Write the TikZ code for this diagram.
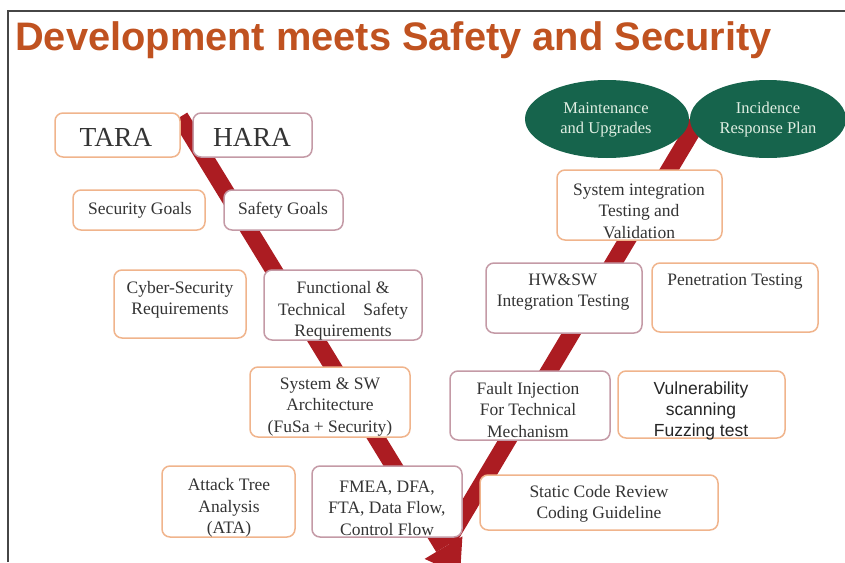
\documentclass[tikz,border=0pt]{standalone}
\usepackage{fontspec}
\usetikzlibrary{shapes.geometric}
\setmainfont{Liberation Serif}
\newfontfamily\titlefont{Liberation Sans}
\newfontfamily\armfont{Liberation Sans}
\begin{document}
\definecolor{bandred}{RGB}{172,28,34}
\definecolor{peach}{RGB}{240,180,140}
\definecolor{mauve}{RGB}{196,154,166}
\definecolor{ovalgreen}{RGB}{22,100,76}
\definecolor{ovaltext}{RGB}{224,238,226}
\definecolor{boxtext}{RGB}{52,52,52}
\definecolor{titlecol}{RGB}{192,82,32}
\definecolor{framecol}{RGB}{70,70,70}
\begin{tikzpicture}[x=1pt,y=-1pt,
  panel/.style={draw, line width=1.5pt, rounded corners=8pt, fill=white, inner sep=0pt},
  lbl/.style={text=boxtext, align=center, font=\fontsize{17.5}{21.5}\selectfont, inner sep=0pt},
  biglbl/.style={text=boxtext, font=\fontsize{27.5}{30}\selectfont, inner sep=0pt},
  sanslbl/.style={text=black!85, align=center, font=\armfont\fontsize{17.5}{21}\selectfont, inner sep=0pt},
  oval/.style={ellipse, fill=ovalgreen, inner sep=0pt},
  ovallbl/.style={text=ovaltext, align=center, font=\fontsize{16.5}{20}\selectfont, inner sep=0pt},
  band/.style={bandred}]
\useasboundingbox (0,0) rectangle (845,562);
\clip (0,0) rectangle (845,562);

% frame
\draw[line width=1.8pt, framecol] (8,562) -- (8,11) -- (845,11);

% title
\node[anchor=base west, text=titlecol, inner sep=0pt,
      font=\titlefont\bfseries\fontsize{39.8}{42}\selectfont] (title) at (15,50)
  {Development meets Safety and Security};

% the V-shaped flow band
\coordinate (vtop) at (180,117);
\coordinate (vbase) at (443.5,547.6);
\coordinate (vtip) at (460,575);
\coordinate (vb1) at (462.4,536.3);
\coordinate (vb2) at (424.6,558.9);
\coordinate (wlow) at (447,542);
\coordinate (wtop) at (700,118);
\draw[band, line width=17pt] (vtop) -- (vbase);
\fill[band] (vb1) -- (vtip) -- (vb2) -- cycle;
\draw[band, line width=17pt] (wlow) -- (wtop);

% left arm boxes
\node[panel, draw=peach, minimum width=125pt, minimum height=44pt] (tara) at (117.5,135) {};
\node[biglbl] (tara-t) at (116,137) {TARA};
\node[panel, draw=mauve, minimum width=119pt, minimum height=44pt] (hara) at (252.5,135) {};
\node[biglbl] (hara-t) at (252,137) {HARA};

\node[panel, draw=peach, minimum width=132pt, minimum height=40pt] (secg) at (139,210) {};
\node[lbl] (secg-t) at (140,210) {Security Goals};
\node[panel, draw=mauve, minimum width=119pt, minimum height=40pt] (safg) at (283.5,210) {};
\node[lbl] (safg-t) at (283,210) {Safety Goals};

\node[panel, draw=peach, minimum width=132pt, minimum height=68pt] (cyber) at (180,304) {};
\node[lbl] (cyber-t) at (180,300) {Cyber-Security\\Requirements};
\node[panel, draw=mauve, minimum width=158pt, minimum height=70pt] (func) at (343,305) {};
\node[lbl] (func-t) at (343,311) {Functional \&\\Technical\quad Safety\\Requirements};

\node[panel, draw=peach, minimum width=160pt, minimum height=70pt] (arch) at (330,402) {};
\node[lbl] (arch-t) at (330,407) {System \& SW\\Architecture\\(FuSa + Security)};

\node[panel, draw=peach, minimum width=133pt, minimum height=71pt] (ata) at (228.5,501.5) {};
\node[lbl] (ata-t) at (229,508) {Attack Tree\\Analysis\\(ATA)};
\node[panel, draw=mauve, minimum width=150pt, minimum height=71pt] (fmea) at (387,501.5) {};
\node[lbl] (fmea-t) at (387,508) {FMEA, DFA,\\FTA, Data Flow,\\Control Flow};

% right arm boxes
\node[panel, draw=peach, minimum width=238pt, minimum height=55pt] (scr) at (599,502.5) {};
\node[lbl] (scr-t) at (599,504) {Static Code Review\\Coding Guideline};

\node[panel, draw=mauve, minimum width=160pt, minimum height=69pt] (fault) at (530,405.5) {};
\node[lbl] (fault-t) at (528,410) {Fault Injection\\For Technical\\Mechanism};
\node[panel, draw=peach, minimum width=167pt, minimum height=67pt] (vuln) at (701.5,404.5) {};
\node[sanslbl] (vuln-t) at (701,411) {Vulnerability\\scanning\\Fuzzing test};

\node[panel, draw=mauve, minimum width=156pt, minimum height=70pt] (hwsw) at (564,298) {};
\node[lbl] (hwsw-t) at (563,292) {HW\&SW\\Integration Testing};
\node[panel, draw=peach, minimum width=166pt, minimum height=69pt] (pen) at (735,297.5) {};
\node[lbl] (pen-t) at (735,282) {Penetration Testing};

\node[panel, draw=peach, minimum width=165pt, minimum height=70pt] (sit) at (639.5,205) {};
\node[lbl] (sit-t) at (639,211) {System integration\\Testing and\\Validation};

% operation phase ovals
\node[oval, minimum width=164pt, minimum height=78pt] (maint) at (607,119) {};
\node[ovallbl] (maint-t) at (606,120) {Maintenance\\and Upgrades};
\node[oval, minimum width=156pt, minimum height=78pt] (irp) at (768,119) {};
\node[ovallbl] (irp-t) at (768,120) {Incidence\\Response Plan};
\end{tikzpicture}
\end{document}
